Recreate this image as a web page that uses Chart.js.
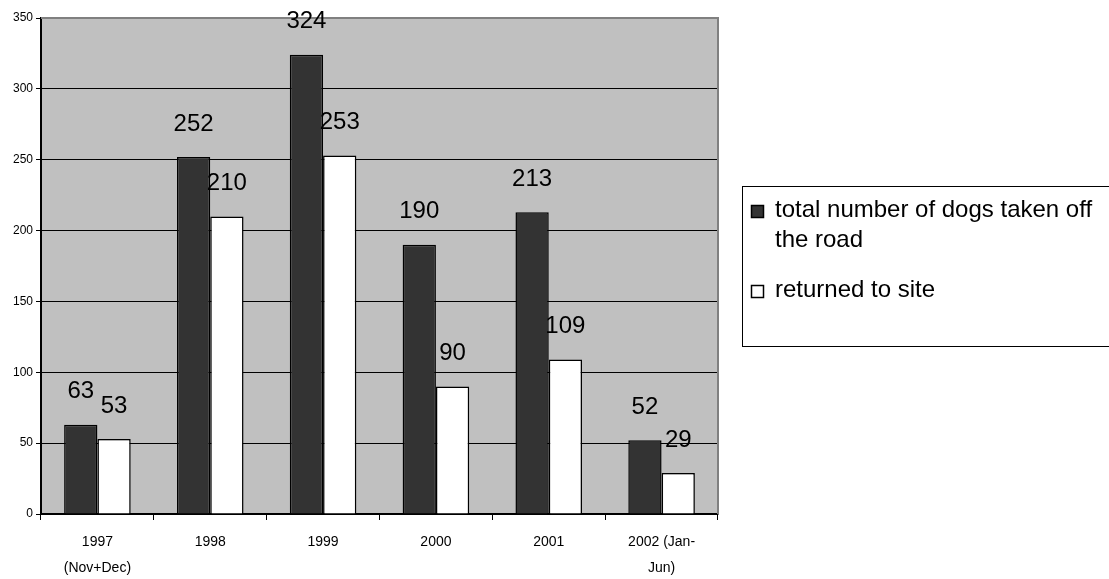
<!DOCTYPE html>
<html>
<head>
<meta charset="utf-8">
<script src="https://cdn.jsdelivr.net/npm/chart.js@4"></script>
<style>
  html, body { margin: 0; padding: 0; background: #fff; }
  #wrap { width: 1109px; height: 579px; position: relative; }
</style>
</head>
<body>
<div id="wrap"><canvas id="dogs" width="1109" height="579"></canvas></div>
<script>
/* chart values */
const years = [['1997', '(Nov+Dec)'], '1998', '1999', '2000', '2001', ['2002 (Jan-', 'Jun)']];
const takenOff = [63, 252, 324, 190, 213, 52];
const returnedSite = [53, 210, 253, 90, 109, 29];
const seriesNames = ['total number of dogs taken off the road', 'returned to site'];
const yTicks = [0, 50, 100, 150, 200, 250, 300, 350];

const FONT = "'Liberation Sans', Arial, sans-serif";

/* grey plot background + top/right frame */
const plotFrame = {
  id: 'plotFrame',
  beforeDraw(chart) {
    const a = chart.chartArea, c = chart.ctx;
    c.save();
    c.fillStyle = '#c0c0c0';
    c.fillRect(a.left, a.top, a.right - a.left, a.bottom - a.top);
    c.restore();
  },
  beforeDatasetsDraw(chart) {
    const a = chart.chartArea, c = chart.ctx;
    c.save();
    c.strokeStyle = '#808080';
    c.lineWidth = 2;
    c.beginPath();
    c.moveTo(a.left, a.top);
    c.lineTo(a.right, a.top);
    c.lineTo(a.right, a.bottom);
    c.stroke();
    c.restore();
  }
};

/* value labels above every bar */
const barValues = {
  id: 'barValues',
  afterDatasetsDraw(chart) {
    const c = chart.ctx;
    c.save();
    c.font = '24px ' + FONT;
    c.fillStyle = '#000';
    c.textAlign = 'center';
    c.textBaseline = 'middle';
    chart.data.datasets.forEach((ds, i) => {
      chart.getDatasetMeta(i).data.forEach((bar, j) => {
        c.fillText(String(ds.data[j]), bar.x, bar.y - 33);
      });
    });
    c.restore();
  }
};

/* boxed legend on the right */
const sideLegend = {
  id: 'sideLegend',
  afterDraw(chart) {
    const c = chart.ctx;
    const left = 742.5, top = 186.5, bottom = 346.5;
    c.save();
    c.strokeStyle = '#000';
    c.lineWidth = 1;
    c.strokeRect(left, top, 1200 - left, bottom - top);
    c.font = '24px ' + FONT;
    c.fillStyle = '#000';
    c.textBaseline = 'middle';
    const rows = [
      { y: 210, lines: ['total number of dogs taken off', 'the road'] },
      { y: 290, lines: ['returned to site'] }
    ];
    chart.data.datasets.forEach((ds, i) => {
      const r = rows[i];
      c.fillStyle = ds.backgroundColor;
      c.fillRect(751.5, r.y - 4.5, 12, 12);
      c.strokeStyle = '#000';
      c.lineWidth = 1.5;
      c.strokeRect(751.5, r.y - 4.5, 12, 12);
      c.fillStyle = '#000';
      r.lines.forEach((t, k) => c.fillText(t, 775, r.y + k * 30));
    });
    c.restore();
  }
};

const ctx = document.getElementById('dogs').getContext('2d');
const dogChart = new Chart(ctx, {
  type: 'bar',
  data: {
    labels: years,
    datasets: [{
      label: seriesNames[0],
      data: takenOff,
      backgroundColor: '#333333',
      borderColor: '#000',
      borderWidth: 1.5
    }, {
      label: seriesNames[1],
      data: returnedSite,
      backgroundColor: '#ffffff',
      borderColor: '#000',
      borderWidth: 1.5
    }]
  },
  options: {
    responsive: false,
    animation: false,
    categoryPercentage: 0.59,
    barPercentage: 1,
    layout: { padding: { top: 18, right: 391, left: 0, bottom: 0 } },
    plugins: {
      legend: { display: false },
      tooltip: { enabled: false }
    },
    scales: {
      x: {
        offset: true,
        grid: { offset: true, drawOnChartArea: false, color: '#000', tickLength: 6 },
        border: { color: '#000', width: 1.5 },
        ticks: { color: '#000', font: { family: FONT, size: 14, lineHeight: 1.85 }, padding: 9, maxRotation: 0 },
        afterFit(scale) { scale.height = 65; }
      },
      y: {
        min: 0,
        max: 350,
        afterBuildTicks(scale) { scale.ticks = yTicks.map(v => ({ value: v })); },
        grid: { color: '#000', lineWidth: 1, tickLength: 5 },
        border: { color: '#000', width: 2 },
        ticks: { color: '#000', font: { family: FONT, size: 12 }, padding: 3 },
        afterFit(scale) { scale.width = 41; }
      }
    }
  },
  plugins: [plotFrame, barValues, sideLegend]
});
</script>
</body>
</html>
